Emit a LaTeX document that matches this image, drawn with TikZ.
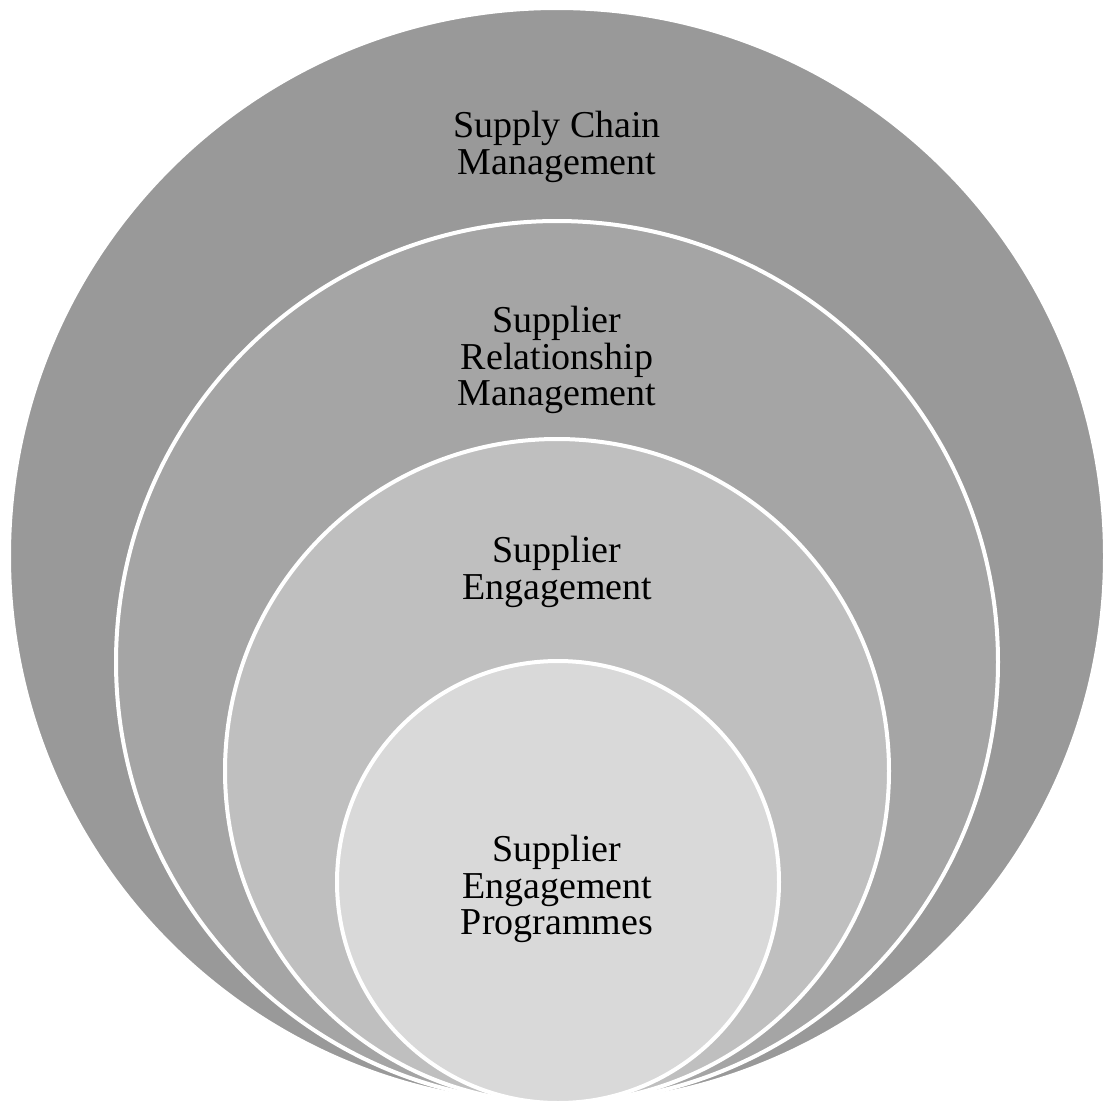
\documentclass[tikz,border=0pt]{standalone}
\usepackage{fontspec}
\setmainfont{Liberation Serif}
\definecolor{cA}{HTML}{999999}
\definecolor{cB}{HTML}{A5A5A5}
\definecolor{cC}{HTML}{BFBFBF}
\definecolor{cD}{HTML}{D9D9D9}
\begin{document}
\begin{tikzpicture}[x=1pt,y=-1pt,
  ring/.style={circle, draw=white, line width=4pt, inner sep=0pt},
  lbl/.style={align=center, text=black, font=\fontsize{38}{36.5}\selectfont, inner sep=0pt}]
\useasboundingbox (0,0) rectangle (1104,1104);
\node[ring, fill=cA, minimum size=1096pt] (c1) at (557,556) {};
\node[ring, fill=cB, minimum size=882pt] (c2) at (557,662) {};
\node[ring, fill=cC, minimum size=664pt] (c3) at (557,771) {};
\node[ring, fill=cD, minimum size=442pt] (c4) at (558,882) {};
\node[lbl] (t1) at (557,147) {Supply Chain\\Management};
\node[lbl] (t2) at (557,360) {Supplier\\Relationship\\Management};
\node[lbl] (t3) at (557,572) {Supplier\\Engagement};
\node[lbl] (t4) at (557,889) {Supplier\\Engagement\\Programmes};
\end{tikzpicture}
\end{document}
